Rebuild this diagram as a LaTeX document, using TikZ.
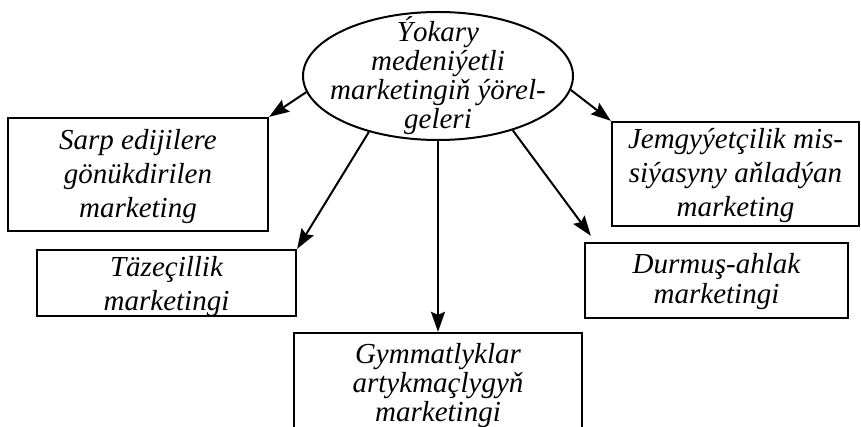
\documentclass[tikz,border=0pt]{standalone}
\usepackage{fontspec}
\setmainfont{Liberation Serif}
\usepackage{tikz}
\usetikzlibrary{shapes.geometric, arrows.meta}
\tikzset{
	goal/.style     ={ellipse, draw=black, line width=2pt, minimum width=270pt, minimum height=128pt, inner xsep=-14pt, inner ysep=-16pt, align=center, font=\fontsize{29}{29}\selectfont\itshape},
	item/.style     ={rectangle, draw=black, line width=2.3pt, inner sep=0pt, align=center, font=\fontsize{29}{34}\selectfont\itshape},
	tight/.style    ={font=\fontsize{29}{29}\selectfont\itshape},
	flowarrow/.style={-{Stealth[length=20pt, width=14pt, inset=3pt]}, line width=2pt},
}
\begin{document}
\begin{tikzpicture}[x=1pt, y=-1pt]
	\clip (0,0) rectangle (861,427);
	\node[goal] (top) at (438,76) {Ýokary\\medeniýetli\\marketingiň ýörel-\\geleri};
	% boxes: text height / depth are measured from the last line
	\node[item, minimum width=260pt, text height=100pt, text depth=13pt] (cust) at (138,174.5) {Sarp edijilere\\gönükdirilen\\marketing};
	\node[item, minimum width=259pt, text height=60pt, text depth=6pt] (nov) at (166.5,283) {Täzeçillik\\marketingi};
	\node[item, tight, minimum width=288pt, text height=88pt, text depth=24pt] (val) at (438,389) {Gymmatlyklar\\artykmaçlygyň\\marketingi};
	\node[item, tight, minimum width=263pt, text height=60pt, text depth=15pt] (eth) at (716.5,280.5) {Durmuş-ahlak\\marketingi};
	\node[item, minimum width=247pt, text height=95pt, text depth=9pt] (soc) at (735.5,174) {Jemgyýetçilik mis-\\siýasyny aňladýan\\marketing};
	\draw[flowarrow] (top.187) -- (cust.north east);
	\draw[flowarrow] (top.219) -- (nov.north east);
	\draw[flowarrow] (top.south) -- (val.north);
	\draw[flowarrow] (top.324) -- ([shift={(7,-6)}]eth.north west);
	\draw[flowarrow] (top.354) -- (soc.north west);
\end{tikzpicture}
\end{document}
